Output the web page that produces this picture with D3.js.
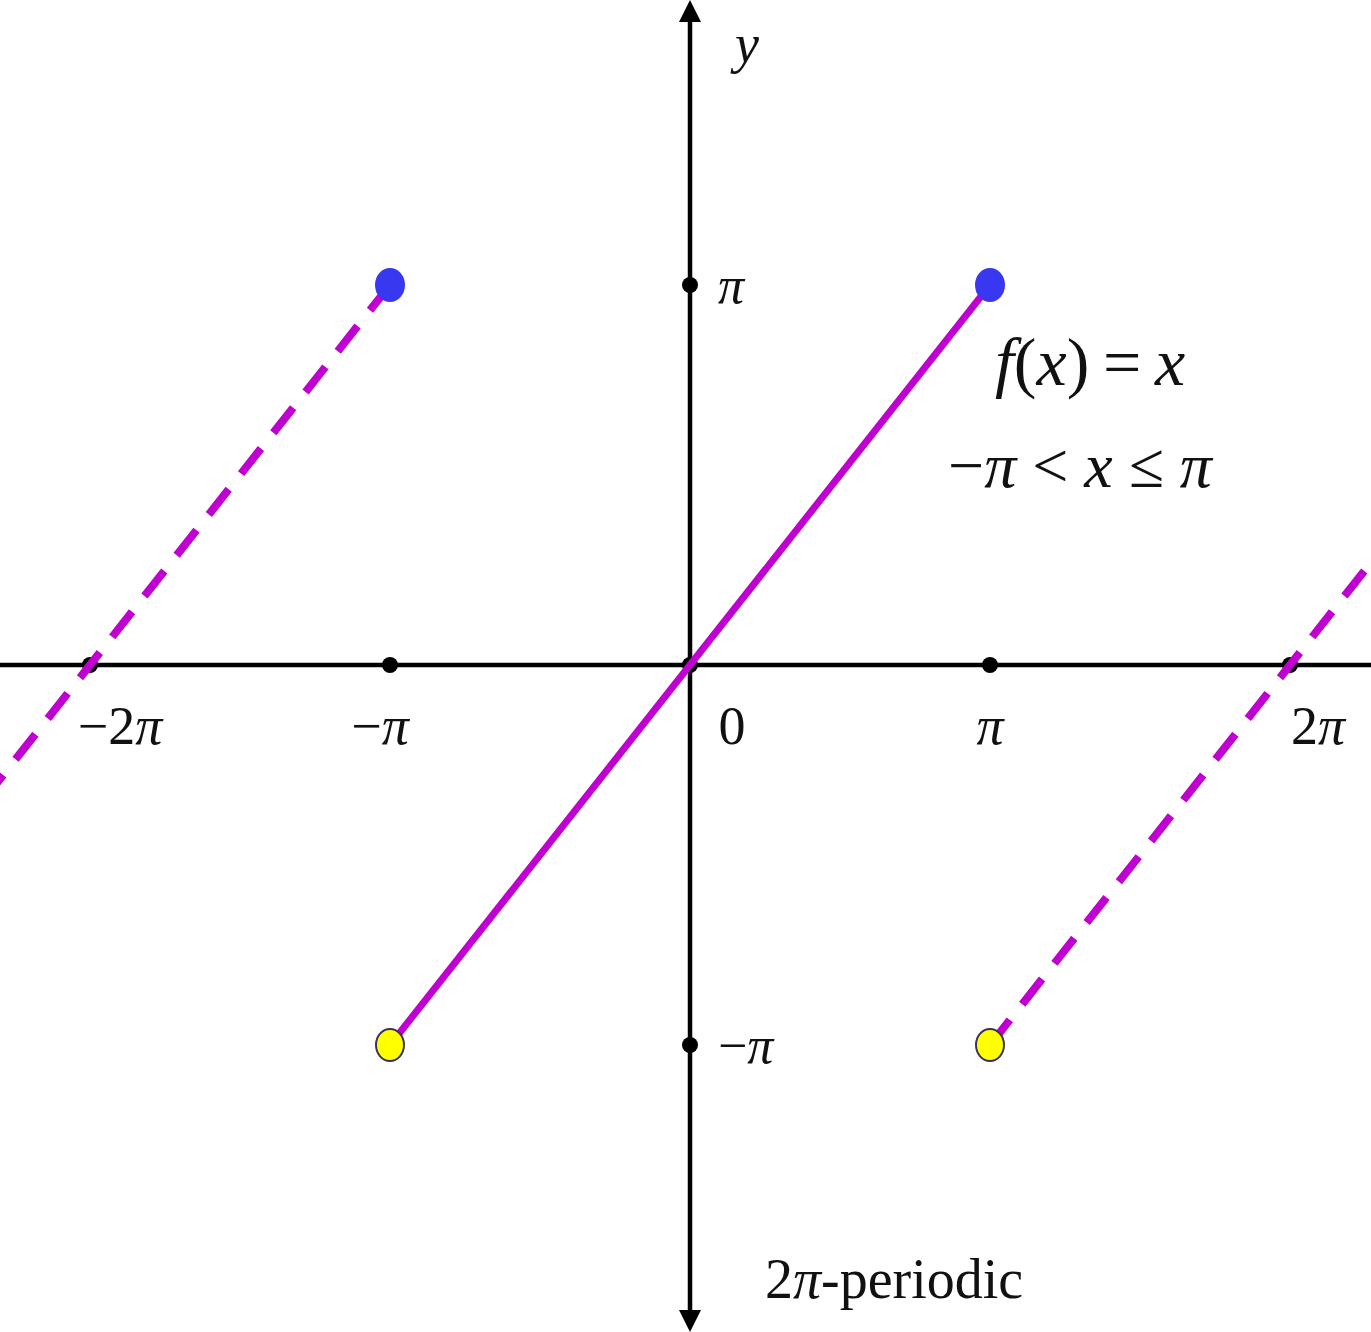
<!DOCTYPE html>
<html><head><meta charset="utf-8">
<script src="https://cdn.jsdelivr.net/npm/d3@7"></script>
<style>body{margin:0;background:#fff}svg{display:block}text{font-family:"Liberation Serif","DejaVu Serif",serif;fill:#111}</style>
</head><body>
<script>
const PI = Math.PI;
// data
const baseSegment = [[-PI, -PI], [PI, PI]];
const periodShifts = [-2 * PI, 2 * PI];
const closedPoints = [[-PI, PI], [PI, PI]];
const openPoints = [[-PI, -PI], [PI, -PI]];
const xTicks = [-2 * PI, -PI, 0, PI, 2 * PI];
const xTickLabels = ["−2π", "−π", "0", "π", "2π"];
const yTicks = [PI, -PI];
const yTickLabels = ["π", "−π"];

const W = 1371, H = 1332;
const ox = 690, oy = 665, ux = 300, uy = 380;
const x = d3.scaleLinear().domain([-ox / ux * PI, (W - ox) / ux * PI]).range([0, W]);
const y = d3.scaleLinear().domain([(oy - H) / uy * PI, oy / uy * PI]).range([H, 0]);

const svg = d3.select("body").append("svg").attr("width", W).attr("height", H);
svg.append("defs").append("clipPath").attr("id", "clip").append("rect").attr("width", W).attr("height", H);

// write text with π and x/f italic
function mathText(sel, str, italicChars) {
  const parts = [];
  for (const ch of str) {
    const it = italicChars.includes(ch);
    if (parts.length && parts[parts.length - 1].it === it) parts[parts.length - 1].s += ch;
    else parts.push({ s: ch, it });
  }
  parts.forEach(p => sel.append("tspan").attr("font-style", p.it ? "italic" : "normal").text(p.s));
  return sel;
}

// axes
svg.append("line").attr("x1", 0).attr("x2", W).attr("y1", y(0)).attr("y2", y(0)).attr("stroke", "#000").attr("stroke-width", 4.5);
svg.append("line").attr("x1", x(0)).attr("x2", x(0)).attr("y1", 16).attr("y2", H - 16).attr("stroke", "#000").attr("stroke-width", 4.5);
svg.append("path").attr("d", `M${x(0)},0 L${x(0) - 11},22 L${x(0) + 11},22 Z`).attr("fill", "#000");
svg.append("path").attr("d", `M${x(0)},${H} L${x(0) - 11},${H - 22} L${x(0) + 11},${H - 22} Z`).attr("fill", "#000");

// tick dots
svg.selectAll(".xt").data(xTicks).enter().append("circle").attr("cx", d => x(d)).attr("cy", y(0)).attr("r", 8).attr("fill", "#000");
svg.selectAll(".yt").data(yTicks).enter().append("circle").attr("cx", x(0)).attr("cy", d => y(d)).attr("r", 8).attr("fill", "#000");

// lines
const line = d3.line().x(d => x(d[0])).y(d => y(d[1]));
const g = svg.append("g").attr("clip-path", "url(#clip)");
periodShifts.forEach(s => {
  g.append("path").attr("d", line(baseSegment.map(p => [p[0] + s, p[1]])))
    .attr("stroke", "#c000d0").attr("stroke-width", 8).attr("fill", "none").attr("stroke-dasharray", "32,20");
});
g.append("path").attr("d", line(baseSegment)).attr("stroke", "#c000d0").attr("stroke-width", 7).attr("fill", "none");

// markers
svg.selectAll(".cp").data(closedPoints).enter().append("ellipse")
  .attr("cx", d => x(d[0])).attr("cy", d => y(d[1])).attr("rx", 15).attr("ry", 17).attr("fill", "#3838f0");
svg.selectAll(".op").data(openPoints).enter().append("ellipse")
  .attr("cx", d => x(d[0])).attr("cy", d => y(d[1])).attr("rx", 14).attr("ry", 16).attr("fill", "#ffff00").attr("stroke", "#3a3060").attr("stroke-width", 2);

// tick labels
const xOff = [30, -10, 42, 0, 28];
xTicks.forEach((d, i) => {
  const t = svg.append("text").attr("x", x(d) + xOff[i]).attr("y", 744)
    .attr("text-anchor", "middle").attr("font-size", 54);
  mathText(t, xTickLabels[i], "π");
});
yTicks.forEach((d, i) => {
  const t = svg.append("text").attr("x", x(0) + 28).attr("y", y(d) + 18).attr("font-size", 52);
  mathText(t, yTickLabels[i], "π");
});

// axis title
svg.append("text").attr("x", 735).attr("y", 62).attr("font-size", 54).attr("font-style", "italic").text("y");

// annotations
const t1 = svg.append("text").attr("x", 1090).attr("y", 385).attr("text-anchor", "middle").attr("font-size", 68);
mathText(t1, "f(x)\u2009=\u2009x", "fx");
const t2 = svg.append("text").attr("x", 1080).attr("y", 487).attr("text-anchor", "middle").attr("font-size", 64);
mathText(t2, "−π < x ≤ π", "πx");
const t3 = svg.append("text").attr("x", 765).attr("y", 1298).attr("font-size", 56);
mathText(t3, "2π-periodic", "π");
</script>
</body></html>
